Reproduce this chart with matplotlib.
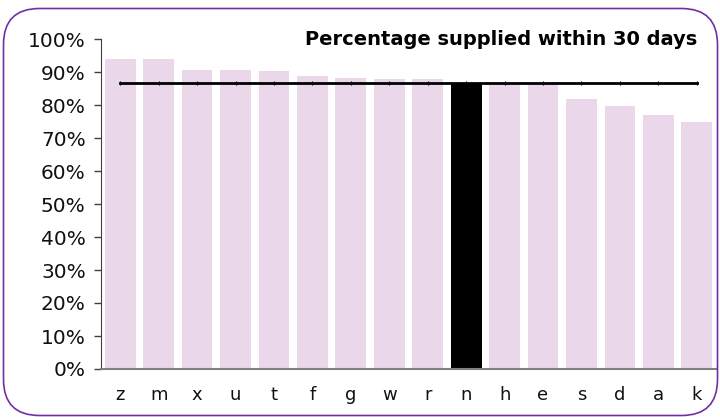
import matplotlib
matplotlib.use("Agg")
import matplotlib.pyplot as plt
from matplotlib.patches import FancyBboxPatch
from matplotlib.ticker import PercentFormatter

# values
categories = ["z", "m", "x", "u", "t", "f", "g", "w", "r", "n", "h", "e", "s", "d", "a", "k"]
supplied = [94.0, 94.0, 90.7, 90.7, 90.4, 88.9, 88.3, 88.0, 88.0, 86.6, 86.7, 86.6, 81.9, 79.8, 77.0, 74.9]
highlight = "n"
benchmark = 86.6

BAR_COLOUR = "#ead8ea"
HIGHLIGHT_COLOUR = "#000000"
BORDER_COLOUR = "#7030a0"

fig = plt.figure(figsize=(7.2, 4.17), dpi=100, facecolor="white")
ax = fig.add_axes([101 / 720, 1 - 369 / 417, (716 - 101) / 720, (369 - 39) / 417])

x = range(len(categories))
colours = [HIGHLIGHT_COLOUR if c == highlight else BAR_COLOUR for c in categories]
ax.bar(x, supplied, width=0.8, color=colours, zorder=2)
ax.plot(x, [benchmark] * len(categories), color="black", lw=2.0,
        marker="|", ms=3, mew=0.8, zorder=3)

ax.set_xlim(-0.5, len(categories) - 0.5)
ax.set_ylim(0, 100)
ax.set_yticks(range(0, 101, 10))
ax.yaxis.set_major_formatter(PercentFormatter(decimals=0))
ax.set_xticks(list(x), categories)
ax.tick_params(axis="x", length=0, pad=12, labelsize=13, labelcolor="#111111")
ax.tick_params(axis="y", length=5, width=1, color="#404040", labelsize=14.5, pad=6,
               labelcolor="#111111")

ax.spines[["top", "right"]].set_visible(False)
ax.spines["left"].set_color("#404040")
ax.spines["bottom"].set_color("#808080")
ax.spines["bottom"].set_linewidth(1.5)

ax.text((697 - 101) / 615, 0.997, "Percentage supplied within 30 days", transform=ax.transAxes,
        ha="right", va="center", fontsize=14, fontweight="bold")

border = FancyBboxPatch((3.5 / 720, 1.5 / 417), 714 / 720, 407 / 417,
                        boxstyle="round,pad=0,rounding_size=0.05",
                        transform=fig.transFigure, fill=False,
                        edgecolor=BORDER_COLOUR, lw=1.2, mutation_aspect=720 / 417)
fig.patches.append(border)

fig.savefig("out.png", dpi=100)
